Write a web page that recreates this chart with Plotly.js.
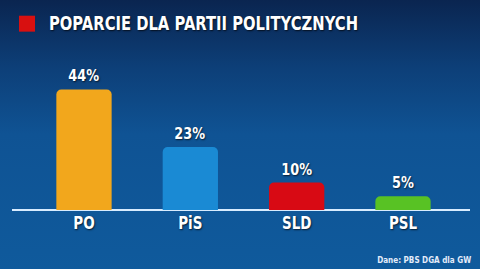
<!DOCTYPE html>
<html><head><meta charset="utf-8">
<script src="https://cdn.plot.ly/plotly-3.0.1.min.js"></script>
<style>
html,body{margin:0;padding:0;}
#chart{width:480px;height:269px;background:linear-gradient(to bottom,#0a2550 0%,#0d3f78 25%,#0f5394 50%,#0f5a9c 100%);}
</style></head>
<body><div id="chart"></div>
<script>
const categories = ["PO", "PiS", "SLD", "PSL"];
const values = [44, 23, 10, 5];
const valueLabels = ["44%", "23%", "10%", "5%"];
const barColors = ["#f2a71c", "#1a8ad4", "#d80a14", "#58c224"];
const titleText = "POPARCIE DLA PARTII POLITYCZNYCH";
const sourceText = "Dane: PBS DGA dla GW";

const FONT = "'DejaVu Sans',sans-serif";
const SHADOW = "1px 1px 2px rgba(0,0,0,0.7)";

const trace = {
  type: "bar",
  x: [0, 1, 2, 3],
  y: values,
  width: 0.52,
  marker: {color: barColors, line: {width: 0}},
  hoverinfo: "skip"
};

const annotations = values.map((v, i) => ({
  x: i, y: v, xref: "x", yref: "y",
  text: valueLabels[i],
  showarrow: false, yanchor: "bottom", yshift: 2,
  font: {family: FONT, size: 16.5, weight: "bold", color: "#ffffff", shadow: SHADOW}
}));
annotations.push({
  xref: "paper", yref: "paper", x: (424-12)/458, y: -0.364,
  xanchor: "center", yanchor: "middle",
  text: sourceText, showarrow: false,
  font: {family: FONT, size: 8.5, weight: "bold", color: "#e4ecfa"}
});

const layout = {
  width: 480, height: 269,
  margin: {l: 12, r: 10, t: 72.5, b: 59, pad: 0},
  paper_bgcolor: "rgba(0,0,0,0)",
  plot_bgcolor: "rgba(0,0,0,0)",
  barcornerradius: 5,
  showlegend: false,
  title: {
    text: titleText,
    x: 49/480, xanchor: "left", xref: "container",
    y: 1 - 23/269, yanchor: "middle", yref: "container",
    font: {family: FONT, size: 20, weight: "bold", color: "#ffffff", shadow: SHADOW}
  },
  xaxis: {
    range: [-0.677, 3.630],
    tickmode: "array", tickvals: [0, 1, 2, 3],
    ticktext: categories,
    tickfont: {family: FONT, size: 18, weight: "bold", color: "#ffffff", shadow: SHADOW},
    showgrid: false, zeroline: false, showline: false, ticks: "",
    fixedrange: true
  },
  yaxis: {
    range: [0, 50], visible: true, showgrid: false, showticklabels: false,
    zeroline: true, zerolinecolor: "#d8ecff", zerolinewidth: 2,
    showline: false, ticks: "", fixedrange: true
  },
  shapes: [{
    type: "rect", xref: "paper", yref: "paper",
    x0: (19-12)/458, x1: (35-12)/458,
    y0: (210-31)/137.5, y1: (210-15)/137.5,
    fillcolor: "#d81010", line: {width: 0}
  }],
  annotations: annotations
};

function squeeze(t, factor) {
  const len = t.getComputedTextLength();
  if (len > 0) {
    t.setAttribute("textLength", (len * factor).toFixed(1));
    t.setAttribute("lengthAdjust", "spacingAndGlyphs");
  }
}
function squeezeTo(t, width) {
  const len = t.getComputedTextLength();
  if (len > 0) squeeze(t, width / len);
}

Plotly.newPlot("chart", [trace], layout, {displayModeBar: false, staticPlot: true}).then(gd => {
  gd.querySelectorAll("text.gtitle").forEach(t => squeezeTo(t, 309));
  gd.querySelectorAll(".xtick text").forEach(t => squeeze(t, 0.75));
  const ann = gd.querySelectorAll(".annotation-text");
  ann.forEach((t, i) => {
    if (i < values.length) squeeze(t, 0.78);
    else squeezeTo(t, 94);
  });
});
</script></body></html>
